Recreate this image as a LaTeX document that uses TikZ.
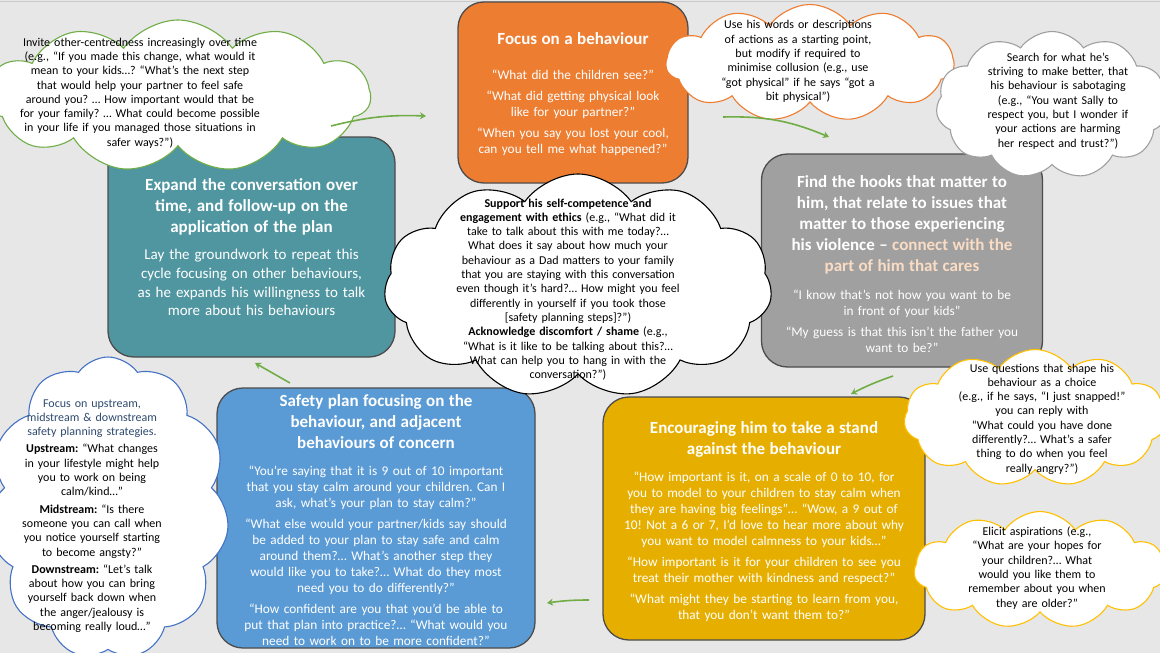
\documentclass[tikz,border=0pt]{standalone}
\usepackage{fontspec}
\setmainfont{Carlito}
\usetikzlibrary{shapes.symbols, arrows.meta}
\frenchspacing

\definecolor{pagegrey}{HTML}{E7E7E7}
\definecolor{framegrey}{HTML}{C9C9C9}
\definecolor{focusorange}{HTML}{ED7D31}
\definecolor{hookgrey}{HTML}{A0A0A0}
\definecolor{standgold}{HTML}{E6AF00}
\definecolor{planblue}{HTML}{5B9BD5}
\definecolor{expandteal}{HTML}{4F96A0}
\definecolor{peach}{HTML}{FADCC4}
\definecolor{leafgreen}{HTML}{70AD47}
\definecolor{cloudgold}{HTML}{FFC000}
\definecolor{cloudblue}{HTML}{4472C4}
\definecolor{slateblue}{HTML}{2E4A6E}

\newcommand{\stagetitle}[3][0pt]{{\fontsize{17}{21}\selectfont\bfseries\rule{0pt}{#1}#3\par}\vspace{#2}}
\newcommand{\stagegap}{\par\vspace{5pt}}

\begin{document}
\begin{tikzpicture}[
  x=1pt, y=-1pt,
  stage/.style={draw=black!70, line width=1.3pt, rounded corners=26pt, text=white,
    align=center, inner sep=0pt, font=\fontsize{13.3}{16}\selectfont},
  tip/.style={cloud, cloud puffs=11, cloud puff arc=110, cloud ignores aspect,
    fill=white, line width=1.1pt},
  tiptext/.style={align=center, inner sep=0pt, font=\fontsize{12}{14.3}\selectfont},
  flow/.style={draw=leafgreen, line width=1.6pt, -{Stealth[length=6pt,width=7pt]}}
]
\useasboundingbox (0,0) rectangle (1160,653);
\fill[pagegrey] (0,0) rectangle (1160,653);
\draw[framegrey, line width=1pt] (0,1.5) -- (1160,1.5);

% the five stages
\node[stage, fill=focusorange, minimum width=230pt, minimum height=181pt, text width=222pt]
  (focus) at (573,92.5) {\stagetitle[14.5pt]{19pt}{Focus on a behaviour}
  “What did the children see?”\stagegap
  “What did getting physical look\\ like for your partner?”\stagegap
  “When you say you lost your cool,\\ can you tell me what happened?”};

\node[stage, fill=hookgrey, minimum width=281pt, minimum height=213pt, text width=273pt]
  (hooks) at (902,260.5) {\stagetitle[18.5pt]{12pt}{Find the hooks that matter to\\ him, that relate to issues that\\
  matter to those experiencing\\ his violence – {\color{peach}connect with the\\ part of him that cares}}
  “I know that’s not how you want to be\\ in front of your kids”\stagegap
  “My guess is that this isn’t the father you\\ want to be?”};

\node[stage, fill=standgold, minimum width=322pt, minimum height=243pt, text width=312pt]
  (stand) at (764,518.5) {\stagetitle[18.5pt]{11pt}{Encouraging him to take a stand\\ against the behaviour}
  “How important is it, on a scale of 0 to 10, for\\ you to model to your children to stay calm when\\
  they are having big feelings”… “Wow, a 9 out of\\ 10! Not a 6 or 7, I’d love to hear more about why\\
  you want to model calmness to your kids…”\stagegap
  “How important is it for your children to see you\\ treat their mother with kindness and respect?”\stagegap
  “What might they be starting to learn from you,\\ that you don’t want them to?”};

\node[stage, fill=planblue, minimum width=318pt, minimum height=260pt, text width=310pt]
  (plan) at (376,518) {\stagetitle[15.5pt]{11pt}{Safety plan focusing on the\\ behaviour, and adjacent\\ behaviours of concern}
  “You’re saying that it is 9 out of 10 important\\ that you stay calm around your children. Can I\\
  ask, what’s your plan to stay calm?”\stagegap
  “What else would your partner/kids say should\\ be added to your plan to stay safe and calm\\
  around them?… What’s another step they\\ would like you to take?… What do they most\\
  need you to do differently?”\stagegap
  “How confident are you that you’d be able to\\ put that plan into practice?… “What would you\\
  need to work on to be more confident?”};

\node[stage, fill=expandteal, minimum width=287pt, minimum height=220pt, text width=279pt,
  font=\fontsize{15}{18.7}\selectfont]
  (expand) at (251.5,247) {\stagetitle{9pt}{Expand the conversation over\\ time, and follow-up on the\\ application of the plan}
  Lay the groundwork to repeat this\\ cycle focusing on other behaviours,\\
  as he expands his willingness to talk\\ more about his behaviours};

% clouds with prompts
\node[tip, draw=leafgreen, minimum width=385pt, minimum height=152pt] (othercloud) at (178,96) {};
\node[tiptext, text width=275pt] (othertext) at (140,93) {Invite other-centredness increasingly over time\\
  (e.g., “If you made this change, what would it\\ mean to your kids…? “What’s the next step\\
  that would help your partner to feel safe\\ around you? … How important would that be\\
  for your family? … What could become possible\\ in your life if you managed those situations in\\
  safer ways?”)};

\node[tip, draw=focusorange, minimum width=288pt, minimum height=117pt] (wordscloud) at (810,63) {};
\node[tiptext, text width=180pt] (wordstext) at (798,61.5) {Use his words or descriptions\\
  of actions as a starting point,\\ but modify if required to\\ minimise collusion (e.g., use\\
  “got physical” if he says “got a\\ bit physical”)};

\node[tip, draw=hookgrey, minimum width=232pt, minimum height=147pt] (strivecloud) at (1052,105) {};
\node[tiptext, text width=170pt] (strivetext) at (1058,101) {Search for what he’s\\
  striving to make better, that\\ his behaviour is sabotaging\\ (e.g., “You want Sally to\\
  respect you, but I wonder if\\ your actions are harming\\ her respect and trust?”)};

\node[tip, draw=black, minimum width=388pt, minimum height=224pt] (ethicscloud) at (578,286) {};
\node[tiptext, text width=250pt] (ethicstext) at (568,289.5) {\textbf{Support his self-competence and}\\
  \textbf{engagement with ethics} (e.g., “What did it\\ take to talk about this with me today?…\\
  What does it say about how much your\\ behaviour as a Dad matters to your family\\
  that you are staying with this conversation\\ even though it’s hard?… How might you feel\\
  differently in yourself if you took those\\ {[}safety planning steps{]}?”)\\
  \textbf{Acknowledge discomfort / shame} (e.g.,\\ “What is it like to be talking about this?…\\
  What can help you to hang in with the\\ conversation?”)};

\node[tip, draw=cloudgold, minimum width=262pt, minimum height=137pt] (choicecloud) at (1035,418) {};
\node[tiptext, text width=195pt] (choicetext) at (1042,419) {Use questions that shape his\\
  behaviour as a choice\\ (e.g., if he says, “I just snapped!”\\ you can reply with\\
  “What could you have done\\ differently?… What’s a safer\\ thing to do when you feel\\
  really angry?”)};

\node[tip, draw=cloudgold, minimum width=252pt, minimum height=117pt] (hopecloud) at (1040,570) {};
\node[tiptext, text width=170pt] (hopetext) at (1037,568) {Elicit aspirations (e.g.,\\
  “What are your hopes for\\ your children?… What\\ would you like them to\\
  remember about you when\\ they are older?”};

\node[tip, draw=cloudblue, minimum width=242pt, minimum height=302pt] (streamcloud) at (108,508) {};
\node[tiptext, text width=165pt] (streamtext) at (92,516) {{\color{slateblue}Focus on upstream,\\
  midstream \& downstream\\ safety planning strategies.}\\[3pt]
  \textbf{Upstream:} “What changes\\ in your lifestyle might help\\ you to work on being\\ calm/kind…”\\[3pt]
  \textbf{Midstream:} “Is there\\ someone you can call when\\ you notice yourself starting\\ to become angsty?”\\[3pt]
  \textbf{Downstream:} “Let’s talk\\ about how you can bring\\ yourself back down when\\
  the anger/jealousy is\\ becoming really loud…”};

% arrows round the cycle
\coordinate (e2f-s) at (331,126);
\coordinate (e2f-e) at (426,116);
\coordinate (f2h-s) at (723,117);
\coordinate (f2h-e) at (829,137);
\coordinate (h2s-s) at (893,376);
\coordinate (h2s-e) at (851,394);
\coordinate (s2p-s) at (589,600);
\coordinate (s2p-e) at (547,603);
\coordinate (p2e-s) at (290,383);
\coordinate (p2e-e) at (255,363);
\draw[flow] (e2f-s) to[bend left=8] (e2f-e);
\draw[flow] (f2h-s) to[bend left=12] (f2h-e);
\draw[flow] (h2s-s) to[bend right=4] (h2s-e);
\draw[flow] (s2p-s) to[bend right=4] (s2p-e);
\draw[flow] (p2e-s) -- (p2e-e);
\end{tikzpicture}
\end{document}
